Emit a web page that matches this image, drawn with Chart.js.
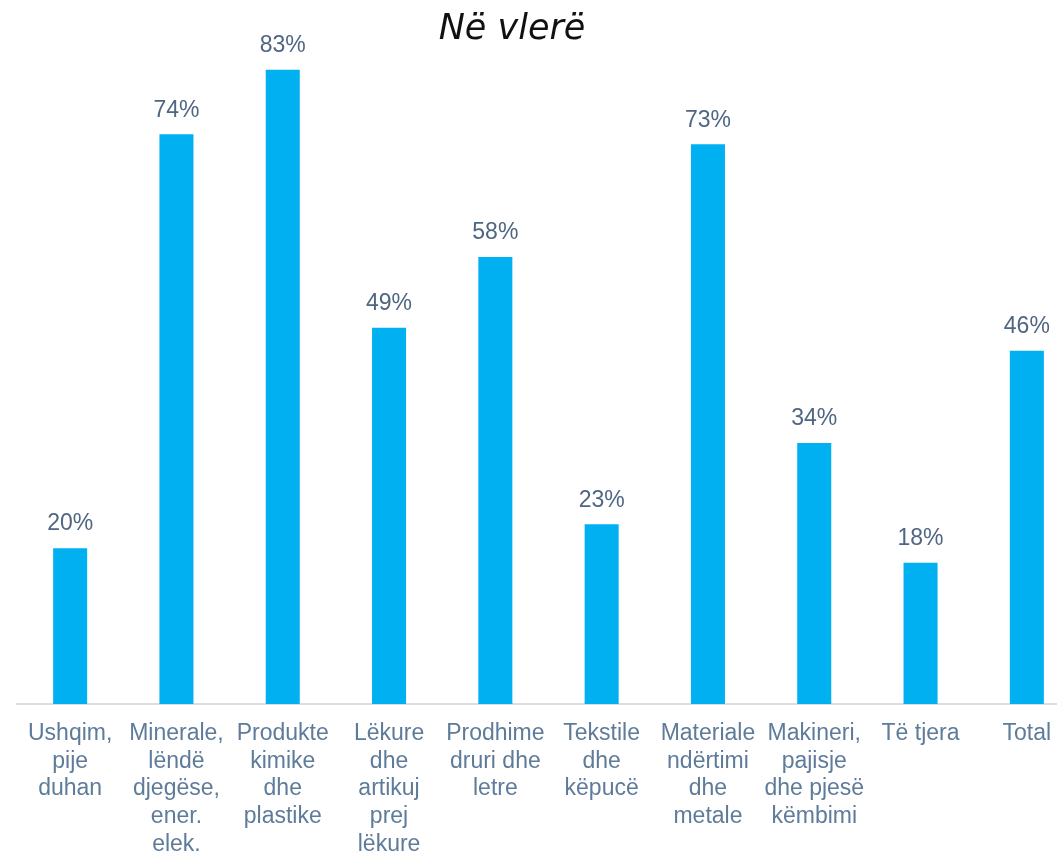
<!DOCTYPE html>
<html>
<head>
<meta charset="utf-8">
<script src="https://cdn.jsdelivr.net/npm/chart.js@4"></script>
<style>
    html, body { margin: 0; padding: 0; background: #fff; overflow: hidden; }
    #wrap { position: relative; width: 1080px; height: 853px; }
</style>
</head>
<body>
<div id="wrap"><canvas id="valueChart"></canvas></div>
<script>
const TITLE = 'Në vlerë';

const categories = [
    ['Ushqim,', 'pije', 'duhan'],
    ['Minerale,', 'lëndë', 'djegëse,', 'ener.', 'elek.'],
    ['Produkte', 'kimike', 'dhe', 'plastike'],
    ['Lëkure', 'dhe', 'artikuj', 'prej', 'lëkure'],
    ['Prodhime', 'druri dhe', 'letre'],
    ['Tekstile', 'dhe', 'këpucë'],
    ['Materiale', 'ndërtimi', 'dhe', 'metale'],
    ['Makineri,', 'pajisje', 'dhe pjesë', 'këmbimi'],
    ['Të tjera'],
    ['Total']
];

const shares = [20.3, 74.2, 82.6, 49.0, 58.2, 23.4, 72.9, 34.0, 18.4, 46.0];

const BAR_COLOR = '#00B0F0';
const LABEL_COLOR = '#4F6682';
const TICK_COLOR = '#5E7B9A';

// draws the % value above each bar
const valueLabels = {
    id: 'valueLabels',
    afterDatasetsDraw(chart) {
        const ctx = chart.ctx;
        const meta = chart.getDatasetMeta(0);
        ctx.save();
        ctx.font = '23px "Liberation Sans", Arial, sans-serif';
        ctx.fillStyle = LABEL_COLOR;
        ctx.textAlign = 'center';
        ctx.textBaseline = 'middle';
        meta.data.forEach((bar, i) => {
            ctx.fillText(Math.round(shares[i]) + '%', bar.x, bar.y - 24);
        });
        ctx.restore();
    }
};

// title sits over the visible page centre, not the wider canvas
const pageTitle = {
    id: 'pageTitle',
    afterDraw(chart) {
        const ctx = chart.ctx;
        ctx.save();
        ctx.font = 'italic 200 35px "DejaVu Sans", sans-serif';
        ctx.fillStyle = '#111';
        ctx.textAlign = 'center';
        ctx.textBaseline = 'middle';
        ctx.fillText(TITLE, 512, 30);
        ctx.restore();
    }
};

const ctx = document.getElementById('valueChart').getContext('2d');
new Chart(ctx, {
    type: 'bar',
    data: {
        labels: categories,
        datasets: [{
            data: shares,
            backgroundColor: BAR_COLOR,
            barPercentage: 0.64,
            categoryPercentage: 0.5
        }]
    },
    options: {
        responsive: true,
        maintainAspectRatio: false,
        animation: false,
        layout: {
            padding: { left: 17, right: 0, top: 59, bottom: 0 }
        },
        scales: {
            x: {
                grid: { display: false },
                border: { display: true, color: '#D9DEE5', width: 2 },
                ticks: {
                    color: TICK_COLOR,
                    font: { family: '"Liberation Sans", Arial, sans-serif', size: 23, lineHeight: 1.2 },
                    padding: 8,
                    maxRotation: 0,
                    autoSkip: false
                },
                afterFit(scale) {
                    scale.height = 149;
                }
            },
            y: {
                display: false,
                min: 0,
                max: 84
            }
        },
        plugins: {
            legend: { display: false },
            tooltip: { enabled: false },
            title: { display: false }
        }
    },
    plugins: [valueLabels, pageTitle]
});
</script>
</body>
</html>
